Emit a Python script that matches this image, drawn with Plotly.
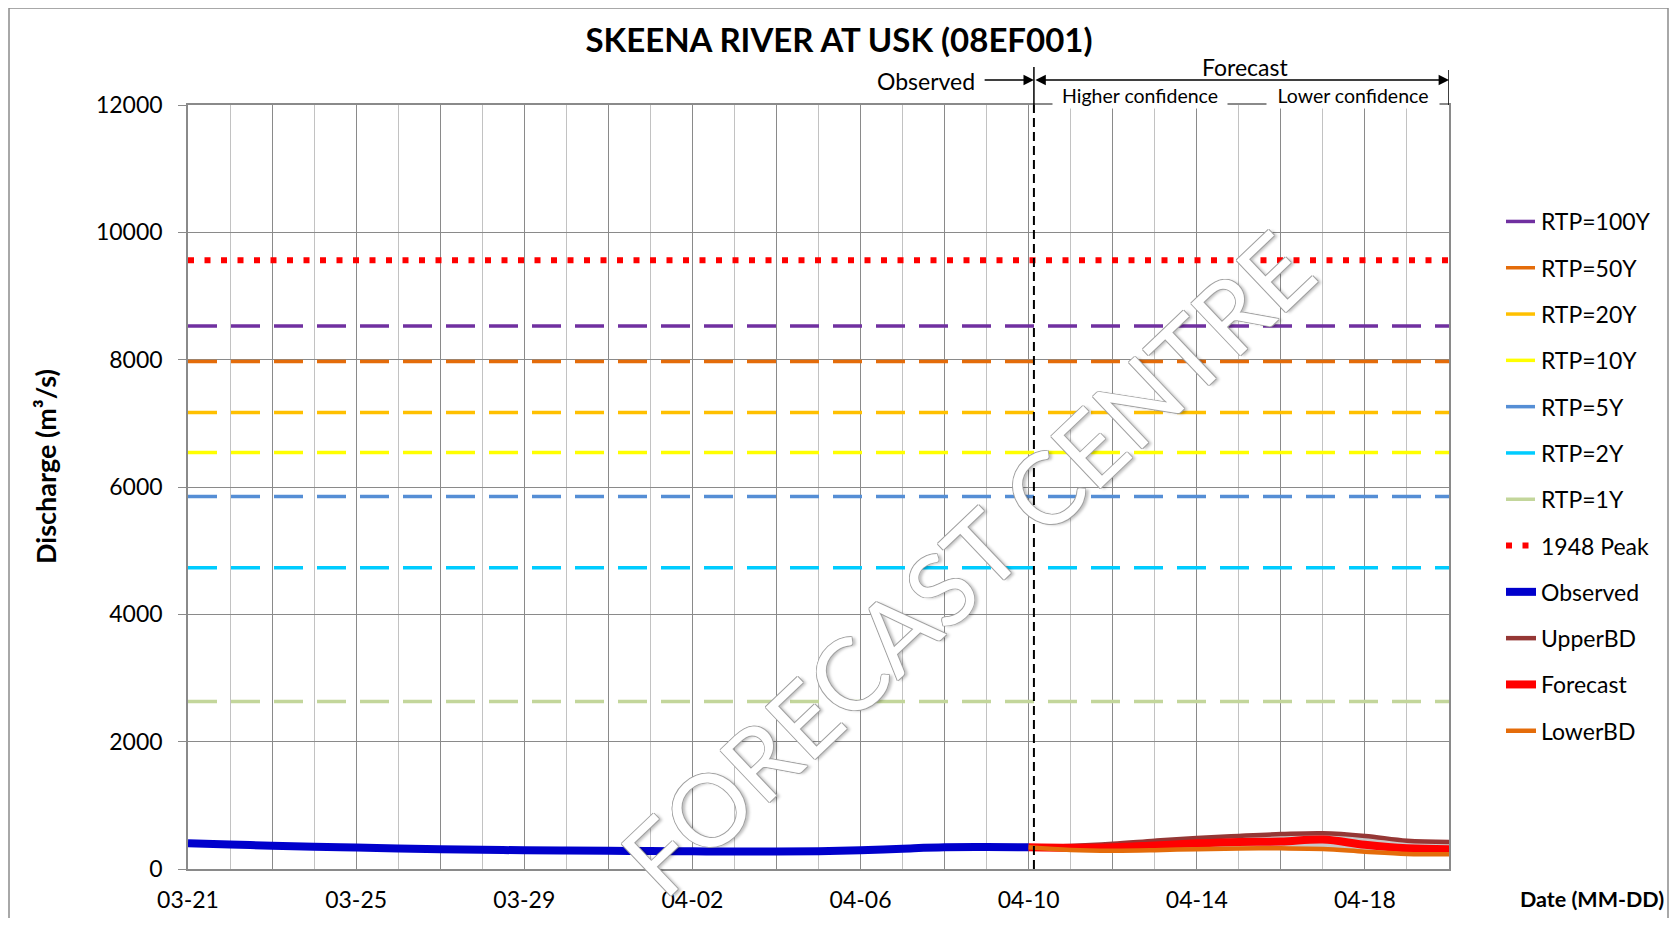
import plotly.graph_objects as go
import pandas as pd

YEAR = 2023
TITLE = "SKEENA RIVER AT USK (08EF001)"

# ---- data ----
OBS_DATES = ["03-21", "03-22", "03-23", "03-24", "03-25", "03-26", "03-27", "03-28",
             "03-29", "03-30", "03-31", "04-01", "04-02", "04-03", "04-04", "04-05",
             "04-06", "04-07", "04-08", "04-09", "04-10"]
OBS_VALUES = [403, 384, 366, 350, 336, 322, 310, 301, 294, 289, 285, 282, 278, 274,
              274, 280, 295, 320, 342, 345, 342]

FC_DATES = ["04-10", "04-11", "04-12", "04-13", "04-14", "04-15", "04-16", "04-17",
            "04-18", "04-19", "04-20"]
FC_VALUES = [342, 334, 340, 371, 403, 425, 430, 462, 380, 325, 310]
UPPER_VALUES = [342, 360, 395, 444, 488, 520, 548, 562, 520, 445, 425]
LOWER_VALUES = [342, 300, 288, 296, 312, 322, 324, 315, 272, 236, 230]

THRESHOLD_NAMES = ["RTP=100Y", "RTP=50Y", "RTP=20Y", "RTP=10Y", "RTP=5Y", "RTP=2Y", "RTP=1Y"]
THRESHOLD_VALUES = [8530, 7970, 7170, 6540, 5850, 4730, 2630]
THRESHOLD_COLORS = ["#7030A0", "#E46C0A", "#FFC000", "#FFFF00", "#558ED5", "#00CCFF", "#C3D69B"]
PEAK_NAME = "1948 Peak"
PEAK_VALUE = 9560

X_START, X_END = "03-21", "04-20"
FORECAST_START = "04-10 03:00"
X_TICK_LABELS = ["03-21", "03-25", "03-29", "04-02", "04-06", "04-10", "04-14", "04-18"]
Y_TICKS = [0, 2000, 4000, 6000, 8000, 10000, 12000]

FONT = "Lato, 'Open Sans', sans-serif"


def d(mmdd):
    return pd.Timestamp(f"{YEAR}-{mmdd}")


# ---- layout geometry ----
# page pixels (the html body adds an 8px margin around the figure)
OFF = 8
W, H = 1678 - 2 * OFF, 926 - 2 * OFF
PL, PR, PT, PB = 188, 1449, 105, 869   # plot area in page pixels


def px_x(p):
    return (p - PL) / (PR - PL)


def px_y(p):
    return (PB - p) / (PB - PT)


fig = go.Figure()

x_span = [d(X_START), d(X_END)]

for i, (name, val, col) in enumerate(zip(THRESHOLD_NAMES, THRESHOLD_VALUES, THRESHOLD_COLORS)):
    fig.add_trace(go.Scatter(
        x=x_span, y=[val, val], mode="lines", name=name,
        line=dict(color=col, width=3.5, dash="29px,14px"),
        legendgroup=name, legendrank=i + 1, hoverinfo="skip"))

fig.add_trace(go.Scatter(
    x=x_span, y=[PEAK_VALUE, PEAK_VALUE], mode="lines", name=PEAK_NAME,
    line=dict(color="#FF0000", width=6, dash="6px,10.5px"),
    legendgroup=PEAK_NAME, legendrank=8, hoverinfo="skip"))

fc_x = [d(s) for s in FC_DATES]
obs_x = [d(s) for s in OBS_DATES]

# uncertainty band between bounds
fig.add_trace(go.Scatter(x=fc_x, y=LOWER_VALUES, mode="lines", line=dict(width=0, shape="spline"),
                         showlegend=False, hoverinfo="skip"))
fig.add_trace(go.Scatter(x=fc_x, y=UPPER_VALUES, mode="lines", line=dict(width=0, shape="spline"),
                         fill="tonexty", fillcolor="#C8C8C8", showlegend=False, hoverinfo="skip"))

fig.add_trace(go.Scatter(x=obs_x, y=OBS_VALUES, mode="lines", name="Observed",
                         line=dict(color="#0000CC", width=8, shape="spline"),
                         legendgroup="Observed", legendrank=9))
fig.add_trace(go.Scatter(x=fc_x, y=UPPER_VALUES, mode="lines", name="UpperBD",
                         line=dict(color="#953735", width=4.5, shape="spline"),
                         legendgroup="UpperBD", legendrank=10))
fig.add_trace(go.Scatter(x=fc_x, y=FC_VALUES, mode="lines", name="Forecast",
                         line=dict(color="#FF0000", width=8, shape="spline"),
                         legendgroup="Forecast", legendrank=11))
fig.add_trace(go.Scatter(x=fc_x, y=LOWER_VALUES, mode="lines", name="LowerBD",
                         line=dict(color="#E46C0A", width=4.5, shape="spline"),
                         legendgroup="LowerBD", legendrank=12))

# x ticks: dark grid every 2 days, labels every 4 days, light grid daily
grid_days = pd.date_range(d(X_START), d(X_END), freq="2D")
tickvals = list(grid_days)
ticktext = [g.strftime("%m-%d") if g.strftime("%m-%d") in X_TICK_LABELS else "" for g in grid_days]

GRID_DARK = "#8A8A8A"
GRID_LIGHT = "#C2C2C2"

fig.update_xaxes(
    type="date", range=x_span, tickmode="array", tickvals=tickvals, ticktext=ticktext,
    showgrid=True, gridcolor=GRID_DARK, gridwidth=1.3,
    minor=dict(dtick=86400000, tick0=d(X_START), showgrid=True, gridcolor=GRID_LIGHT, gridwidth=1.3),
    ticks="", showline=True, linecolor=GRID_DARK, linewidth=1.5, mirror=True,
    tickfont=dict(size=23, color="black", family=FONT), ticklabelstandoff=10, zeroline=False)

fig.update_yaxes(
    range=[0, 12000], tickmode="array", tickvals=Y_TICKS, tickformat="d",
    showgrid=True, gridcolor=GRID_DARK, gridwidth=1.3,
    ticks="outside", ticklen=8, tickcolor=GRID_DARK, tickwidth=1.3,
    showline=True, linecolor=GRID_DARK, linewidth=1.5, mirror=True, zeroline=False,
    tickfont=dict(size=23, color="black", family=FONT), ticklabelstandoff=11)

# forecast start divider
fig.add_shape(type="line", xref="x", yref="paper", x0=d(FORECAST_START), x1=d(FORECAST_START),
              y0=0, y1=1, line=dict(color="black", width=2, dash="9px,5px"))
fig.add_shape(type="line", xref="x", yref="paper", x0=d(FORECAST_START), x1=d(FORECAST_START),
              y0=1, y1=px_y(67), line=dict(color="black", width=1.5))
fig.add_shape(type="line", xref="x", yref="paper", x0=d(X_END), x1=d(X_END),
              y0=1, y1=px_y(70), line=dict(color="black", width=1.5))

# outer chart border
fig.add_shape(type="rect", xref="paper", yref="paper", x0=px_x(9), x1=px_x(1668),
              y0=px_y(960), y1=px_y(8), line=dict(color="#8C8C8C", width=1.5),
              fillcolor="rgba(0,0,0,0)", layer="below")

ann = []
# watermark
ann.append(dict(
    text="FORECAST CENTRE", xref="paper", yref="paper", x=px_x(966), y=px_y(562),
    xanchor="center", yanchor="middle", textangle=-43.5, showarrow=False,
    font=dict(size=100, color="white", family=FONT,
              shadow="1px 0 0 #A0A0A0, -1px 0 0 #A0A0A0, 0 1px 0 #A0A0A0, 0 -1px 0 #A0A0A0, "
                     "2px 3px 3px rgba(0,0,0,0.25)")))
# axis titles
ann.append(dict(text="<b>Discharge (m³/s)</b>", xref="paper", yref="paper", x=px_x(45), y=px_y(467),
                xanchor="center", yanchor="middle", textangle=-90, showarrow=False,
                font=dict(size=27, color="black", family=FONT)))
ann.append(dict(text="<b>Date (MM-DD)</b>", xref="paper", yref="paper", x=px_x(1666), y=px_y(899),
                xanchor="right", yanchor="middle", showarrow=False,
                font=dict(size=21.5, color="black", family=FONT)))
# header texts
ann.append(dict(text="Observed", xref="paper", yref="paper", x=px_x(926), y=px_y(81),
                xanchor="center", yanchor="middle", showarrow=False,
                font=dict(size=23, color="black", family=FONT)))
ann.append(dict(text="Forecast", xref="paper", yref="paper", x=px_x(1245), y=px_y(67),
                xanchor="center", yanchor="middle", showarrow=False,
                font=dict(size=23, color="black", family=FONT)))
ann.append(dict(text="Higher confidence", xref="paper", yref="paper", x=px_x(1140), y=px_y(95),
                xanchor="center", yanchor="middle", showarrow=False, bgcolor="white",
                width=172, height=24, borderpad=1,
                font=dict(size=19.5, color="black", family=FONT)))
ann.append(dict(text="Lower confidence", xref="paper", yref="paper", x=px_x(1353), y=px_y(95),
                xanchor="center", yanchor="middle", showarrow=False, bgcolor="white",
                width=170, height=24, borderpad=1,
                font=dict(size=19.5, color="black", family=FONT)))
# arrows
ann.append(dict(text="", x=d(FORECAST_START), xref="x", y=px_y(80), yref="paper",
                ax=d("04-09") - pd.Timedelta(hours=2), axref="x", ay=0, ayref="pixel",
                showarrow=True, arrowhead=2, arrowsize=1.3, arrowwidth=1.6, arrowcolor="black"))
ann.append(dict(text="", x=d(X_END), xref="x", y=px_y(80), yref="paper",
                ax=d(FORECAST_START), axref="x", ay=0, ayref="pixel", arrowside="end+start",
                showarrow=True, arrowhead=2, startarrowhead=2, arrowsize=1.3, startarrowsize=1.3,
                arrowwidth=1.6, arrowcolor="black"))

fig.update_layout(
    width=W, height=H, autosize=False,
    margin=dict(l=PL - OFF, r=W - (PR - OFF), t=PT - OFF, b=H - (PB - OFF), autoexpand=False),
    paper_bgcolor="white", plot_bgcolor="white",
    font=dict(family=FONT, color="black"),
    title=dict(text=f"<b>{TITLE}</b>", x=0.5, xref="container", xanchor="center",
               y=1 - (40 - OFF) / H, yref="container", yanchor="middle",
               font=dict(size=33, color="black", family=FONT)),
    legend=dict(x=px_x(1501), y=px_y(200), xanchor="left", yanchor="top",
                font=dict(size=23, color="black", family=FONT), bgcolor="rgba(0,0,0,0)",
                traceorder="grouped", tracegroupgap=13.4, itemclick=False),
    annotations=ann,
    showlegend=True,
)

fig.write_html("out.html")
